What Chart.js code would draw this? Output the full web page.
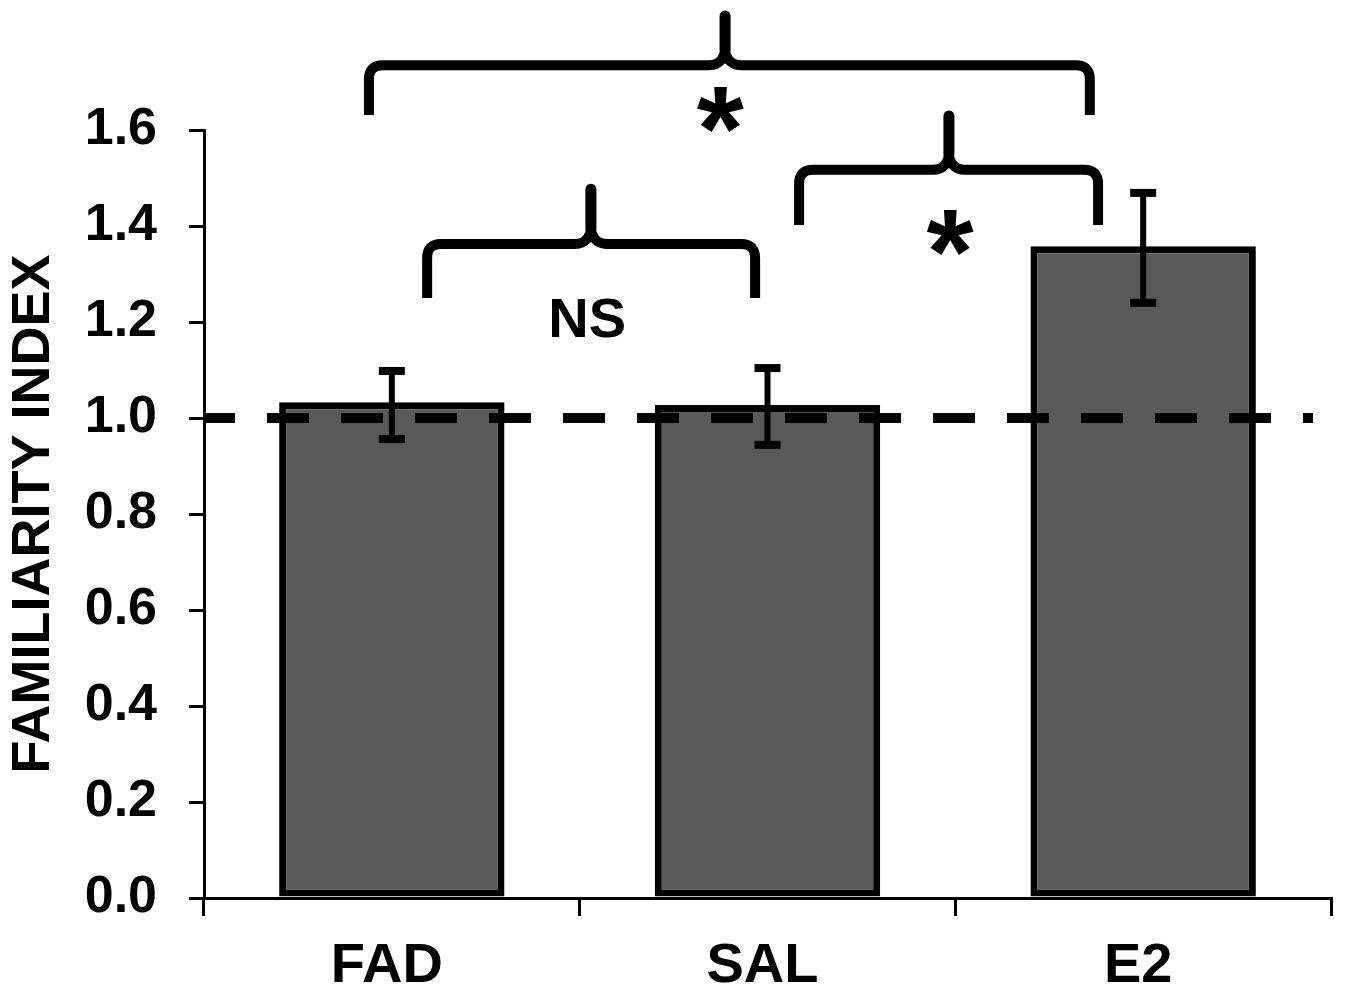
<!DOCTYPE html>
<html>
<head>
<meta charset="utf-8">
<script src="https://cdn.jsdelivr.net/npm/chart.js@4.4.1/dist/chart.umd.min.js"></script>
<style>
  html, body { margin: 0; padding: 0; background: #ffffff; }
  #wrap { width: 1345px; height: 994px; }
</style>
</head>
<body>
<div id="wrap"><canvas id="c" width="1345" height="994"></canvas></div>
<script>
// ---- data ----
const categories = ['FAD', 'SAL', 'E2'];
const means = [1.033, 1.027, 1.358];
const errHigh = [1.098, 1.104, 1.469];
const errLow = [0.956, 0.944, 1.240];
const referenceLevel = 1.0;
const yMin = 0.0;
const yMax = 1.6;
const yStep = 0.2;
const yTitle = 'FAMILIARITY INDEX';

// significance brackets (category-index units on x, value units on y)
const braceLeft  = [-0.061, 1.084, 0.094];
const braceRight = [1.858, 1.880, 0.967];
const braceTip   = [0.887, 1.483, 0.530];
const braceLevel = [1.735, 1.517, 1.3625];
const braceFoot  = [1.631, 1.402, 1.250];
const braceTop   = [1.846, 1.6375, 1.485];
const sigLabels  = ['*', '*', 'NS'];
const sigX       = [0.874, 1.486, 0.522];
const sigY       = [1.642, 1.3875, 1.208];

const FONT = '"Liberation Sans", Arial, Helvetica, sans-serif';
Chart.defaults.font.family = FONT;
Chart.defaults.color = '#000000';

function xPix(chart, v) {
  const s = chart.scales.x;
  const p0 = s.getPixelForValue(0);
  const p1 = s.getPixelForValue(1);
  return p0 + (p1 - p0) * v;
}
function yPix(chart, v) { return chart.scales.y.getPixelForValue(v); }

const overlayPlugin = {
  id: 'overlay',
  afterDatasetsDraw(chart) {
    const ctx = chart.ctx;
    const area = chart.chartArea;
    ctx.save();
    ctx.strokeStyle = '#000';
    // error bars
    for (let i = 0; i < categories.length; i++) {
      const x = xPix(chart, i);
      const yh = yPix(chart, errHigh[i]);
      const yl = yPix(chart, errLow[i]);
      ctx.lineWidth = 6;
      ctx.lineCap = 'butt';
      ctx.beginPath(); ctx.moveTo(x, yh); ctx.lineTo(x, yl); ctx.stroke();
      ctx.lineWidth = 8;
      ctx.beginPath(); ctx.moveTo(x - 13, yh); ctx.lineTo(x + 13, yh); ctx.stroke();
      ctx.beginPath(); ctx.moveTo(x - 13, yl); ctx.lineTo(x + 13, yl); ctx.stroke();
    }
    // dashed reference line
    const yr = yPix(chart, referenceLevel);
    ctx.lineWidth = 10;
    ctx.setLineDash([42, 32]);
    ctx.lineDashOffset = 12;
    ctx.beginPath(); ctx.moveTo(area.left + 1, yr); ctx.lineTo(area.right - 18, yr); ctx.stroke();
    ctx.setLineDash([]);
    ctx.restore();
  },
  afterDraw(chart) {
    const ctx = chart.ctx;
    ctx.save();
    ctx.strokeStyle = '#000';
    ctx.fillStyle = '#000';
    ctx.lineJoin = 'round';
    // braces
    for (let i = 0; i < braceLeft.length; i++) {
      const xl = xPix(chart, braceLeft[i]);
      const xr = xPix(chart, braceRight[i]);
      const xt = xPix(chart, braceTip[i]);
      const yh = yPix(chart, braceLevel[i]);
      const yf = yPix(chart, braceFoot[i]);
      const ytop = yPix(chart, braceTop[i]);
      const r = 14, f = 16;
      ctx.lineWidth = 10;
      ctx.lineCap = 'butt';
      ctx.beginPath();
      ctx.moveTo(xl, yf);
      ctx.lineTo(xl, yh + r);
      ctx.quadraticCurveTo(xl, yh, xl + r, yh);
      ctx.lineTo(xt - f, yh);
      ctx.bezierCurveTo(xt - f / 3, yh, xt, yh - f / 2, xt, yh - f);
      ctx.lineTo(xt, ytop + 4);
      ctx.stroke();
      ctx.beginPath();
      ctx.moveTo(xr, yf);
      ctx.lineTo(xr, yh + r);
      ctx.quadraticCurveTo(xr, yh, xr - r, yh);
      ctx.lineTo(xt + f, yh);
      ctx.bezierCurveTo(xt + f / 3, yh, xt, yh - f / 2, xt, yh - f);
      ctx.lineTo(xt, ytop + 4);
      ctx.stroke();
      ctx.lineCap = 'round';
      ctx.lineWidth = 11;
      ctx.beginPath(); ctx.moveTo(xt, yh - f); ctx.lineTo(xt, ytop + 4); ctx.stroke();
    }
    // labels
    for (let i = 0; i < sigLabels.length; i++) {
      const cx = xPix(chart, sigX[i]);
      const cy = yPix(chart, sigY[i]);
      const txt = sigLabels[i];
      let size;
      if (txt === '*') {
        ctx.font = 'bold 100px ' + FONT;
        const m = ctx.measureText(txt);
        const gh = m.actualBoundingBoxAscent + m.actualBoundingBoxDescent;
        size = 100 * 46 / gh;
      } else {
        size = 56;
      }
      ctx.font = 'bold ' + size.toFixed(1) + 'px ' + FONT;
      ctx.textAlign = 'left';
      ctx.textBaseline = 'alphabetic';
      const m2 = ctx.measureText(txt);
      const x = cx - (m2.actualBoundingBoxRight - m2.actualBoundingBoxLeft) / 2;
      const y = cy - (m2.actualBoundingBoxDescent - m2.actualBoundingBoxAscent) / 2;
      ctx.fillText(txt, x, y);
    }
    ctx.restore();
  }
};

new Chart(document.getElementById('c'), {
  type: 'bar',
  data: {
    labels: categories,
    datasets: [{
      data: means,
      backgroundColor: '#595959',
      borderColor: '#000000',
      borderWidth: 7,
      borderSkipped: false,
      barPercentage: 0.6,
      categoryPercentage: 1.0
    }]
  },
  options: {
    responsive: false,
    animation: false,
    devicePixelRatio: 1,
    layout: { padding: { top: 130, right: 14, left: 0, bottom: 0 } },
    plugins: { legend: { display: false }, tooltip: { enabled: false } },
    scales: {
      x: {
        grid: { display: true, drawOnChartArea: false, drawTicks: true, tickLength: 18, color: '#000', lineWidth: 3, offset: true },
        border: { display: true, color: '#000', width: 3 },
        ticks: { color: '#000', font: { size: 56, weight: 'bold' }, padding: 17, labelOffset: -5 },
        afterFit(s) { s.height = 96; }
      },
      y: {
        min: yMin,
        max: yMax,
        grid: { display: true, drawOnChartArea: false, drawTicks: true, tickLength: 15, color: '#000', lineWidth: 3 },
        border: { display: true, color: '#000', width: 3 },
        ticks: {
          stepSize: yStep,
          color: '#000',
          font: { size: 52, weight: 'bold' },
          padding: 32,
          callback: (v) => Number(v).toFixed(1)
        },
        title: {
          display: true,
          text: yTitle,
          color: '#000',
          font: { size: 54, weight: 'bold' },
          padding: { top: 2, bottom: 0 }
        },
        afterFit(s) { s.width = 204; }
      }
    }
  },
  plugins: [overlayPlugin]
});
</script>
</body>
</html>
